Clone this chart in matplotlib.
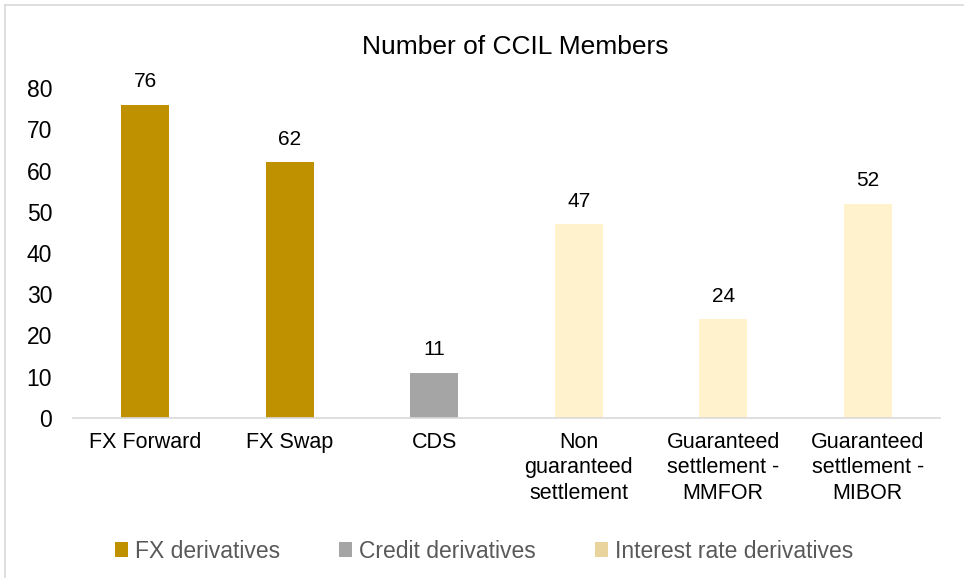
import matplotlib
matplotlib.use("Agg")
import matplotlib.pyplot as plt
from matplotlib.lines import Line2D
from matplotlib.patches import Patch

plt.rcParams["font.family"] = ["Liberation Sans", "DejaVu Sans"]

categories = ["FX Forward", "FX Swap", "CDS", "Non\nguaranteed\nsettlement",
              "Guaranteed\nsettlement -\nMMFOR", "Guaranteed\nsettlement -\nMIBOR"]
members = [76, 62, 11, 47, 24, 52]
groups = ["FX derivatives", "FX derivatives", "Credit derivatives",
          "Interest rate derivatives", "Interest rate derivatives", "Interest rate derivatives"]
group_names = ["FX derivatives", "Credit derivatives", "Interest rate derivatives"]
yticks = [0, 10, 20, 30, 40, 50, 60, 70, 80]

COLORS = {
    "FX derivatives": "#BF9000",
    "Credit derivatives": "#A5A5A5",
    "Interest rate derivatives": "#FFF2CC",
}
LEGEND_COLORS = {
    "FX derivatives": "#BF9000",
    "Credit derivatives": "#A5A5A5",
    "Interest rate derivatives": "#E8D49C",
}

W, H = 964, 578
fig = plt.figure(figsize=(W / 100, H / 100), dpi=100)
ax = fig.add_axes([73 / W, 1 - 418 / H, (940 - 73) / W, (418 - 88) / H])

x = range(len(categories))
bars = ax.bar(x, members, width=0.33, color=[COLORS[g] for g in groups])
ax.bar_label(bars, labels=[str(v) for v in members], padding=9.5, fontsize=15, color="black")

ax.set_xlim(-0.5, len(categories) - 0.5)
ax.set_ylim(0, 80)
ax.set_yticks(yticks)
ax.set_xticks(list(x))
ax.set_xticklabels(categories, fontsize=15.5, linespacing=1.27)
ax.tick_params(axis="y", length=0, pad=15, labelsize=16.5)
ax.tick_params(axis="x", length=0, pad=10)
for s in ["top", "right", "left"]:
    ax.spines[s].set_visible(False)
ax.spines["bottom"].set_color("#D9D9D9")
ax.spines["bottom"].set_linewidth(1.2)

fig.text(515 / W, 1 - 47 / H, "Number of CCIL Members", ha="center", va="center", fontsize=19)

handles = [Patch(facecolor=LEGEND_COLORS[g], edgecolor="none") for g in group_names]
fig.legend(handles, group_names, loc="center", bbox_to_anchor=(484 / W, 1 - 551 / H),
           ncol=3, frameon=False, fontsize=16.5, labelcolor="#595959",
           handlelength=0.55, handleheight=0.6, handletextpad=0.3, columnspacing=2.6)

# light frame around the chart area (top and left edges visible)
fig.add_artist(Line2D([4.5 / W, 4.5 / W], [0, 1 - 4.5 / H], transform=fig.transFigure,
                      color="#D9D9D9", linewidth=1.2))
fig.add_artist(Line2D([4.5 / W, 1], [1 - 4.5 / H, 1 - 4.5 / H], transform=fig.transFigure,
                      color="#D9D9D9", linewidth=1.2))

fig.savefig("out.png", dpi=100)
